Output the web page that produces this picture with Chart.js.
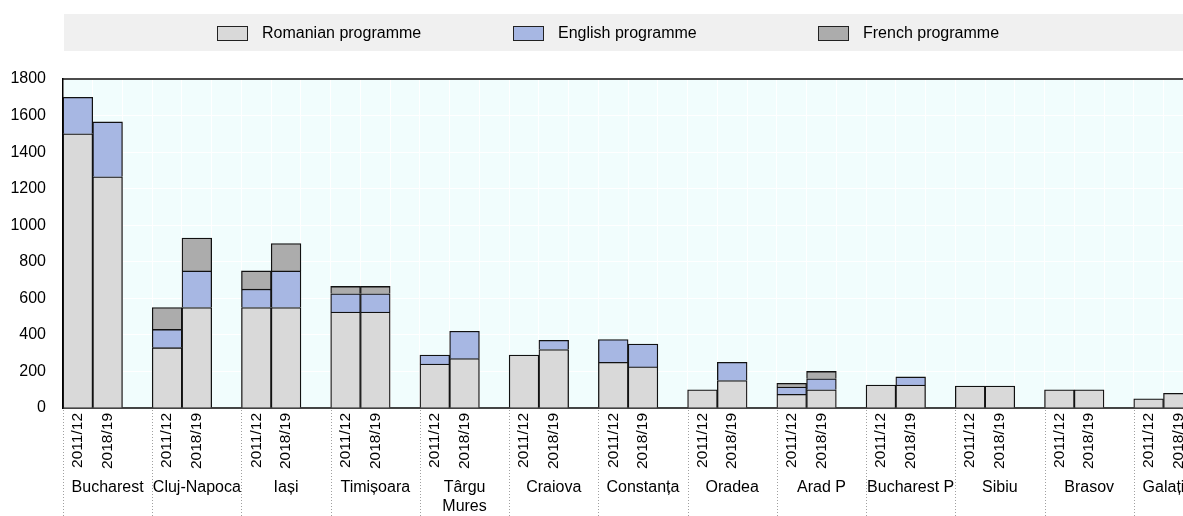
<!DOCTYPE html>
<html>
<head>
<meta charset="utf-8">
<script src="https://cdn.jsdelivr.net/npm/chart.js@4/dist/chart.umd.min.js"></script>
<style>
  html, body { margin: 0; padding: 0; overflow: hidden; background: #fff; }
  #wrap { width: 1202px; height: 516px; }
</style>
</head>
<body>
<div id="wrap"><canvas id="progChart" width="1202" height="516"></canvas></div>
<script>
const cities = ['Bucharest', 'Cluj-Napoca', 'Iași', 'Timișoara', ['Târgu', 'Mures'], 'Craiova',
    'Constanța', 'Oradea', 'Arad P', 'Bucharest P', 'Sibiu', 'Brasov', 'Galați'];
const years = ['2011/12', '2018/19'];

// two values per city: 2011/12, 2018/19
const romanian = [1500, 1265, 330, 550, 550, 550, 525, 525, 240, 270, 290, 320, 250, 225,
    100, 150, 75, 100, 125, 125, 120, 120, 100, 100, 50, 80];
const english = [200, 300, 100, 200, 100, 200, 100, 100, 50, 150, 0, 50, 125, 125,
    0, 100, 40, 60, 0, 45, 0, 0, 0, 0, 0, 0];
const french = [0, 0, 120, 180, 100, 150, 40, 40, 0, 0, 0, 0, 0, 0,
    0, 0, 20, 40, 0, 0, 0, 0, 0, 0, 0, 0];

const yTicks = [0, 200, 400, 600, 800, 1000, 1200, 1400, 1600, 1800];

const FONT = '"Liberation Sans", Arial, sans-serif';

// each city gets two year slots, then an empty gap (none after the last one)
const labels = [];
cities.forEach((c, i) => {
    labels.push(years[0], years[1]);
    if (i < cities.length - 1) labels.push('');
});

function spread(vals) {
    const out = [];
    for (let i = 0; i < cities.length; i++) {
        out.push(vals[i * 2] || null, vals[i * 2 + 1] || null);
        if (i < cities.length - 1) out.push(null);
    }
    return out;
}

const data = {
    labels: labels,
    datasets: [{
        label: 'Romanian programme',
        data: spread(romanian),
        backgroundColor: '#d9d9d9',
    }, {
        label: 'English programme',
        data: spread(english),
        backgroundColor: '#a7b7e3',
    }, {
        label: 'French programme',
        data: spread(french),
        backgroundColor: '#acacac',
    }]
};

// plot background, top frame line, legend band, city labels and separators
const decorations = {
    id: 'decorations',
    beforeDraw(chart) {
        const { ctx, chartArea: a } = chart;
        ctx.save();
        ctx.fillStyle = '#f1fdfd';
        ctx.fillRect(a.left, a.top, a.right - a.left, a.bottom - a.top);
        ctx.restore();
    },
    afterDraw(chart) {
        const { ctx, chartArea: a } = chart;
        const x = chart.scales.x;
        const slot = (a.right - a.left) / labels.length;
        ctx.save();

        // top frame
        ctx.strokeStyle = '#111';
        ctx.lineWidth = 1.5;
        ctx.beginPath();
        ctx.moveTo(a.left, a.top);
        ctx.lineTo(a.right, a.top);
        ctx.stroke();

        // legend band
        ctx.fillStyle = '#f0f0f0';
        ctx.fillRect(64, 14, chart.width - 64, 37);
        const legendX = [217, 513, 818];
        ctx.font = '16px ' + FONT;
        ctx.textBaseline = 'middle';
        ctx.textAlign = 'left';
        chart.data.datasets.forEach((ds, i) => {
            ctx.fillStyle = ds.backgroundColor;
            ctx.fillRect(legendX[i], 26, 30, 14);
            ctx.strokeStyle = '#222';
            ctx.lineWidth = 1;
            ctx.strokeRect(legendX[i] + 0.5, 26.5, 30, 14);
            ctx.fillStyle = '#000';
            ctx.fillText(ds.label, legendX[i] + 45, 34);
        });

        // city separators and names
        ctx.strokeStyle = '#a0a0a0';
        ctx.lineWidth = 1;
        ctx.setLineDash([1, 2]);
        const lefts = cities.map((c, i) => x.getPixelForValue(i * 3) - slot / 2);
        lefts.forEach(l => {
            const px = Math.round(l) + 0.5;
            ctx.beginPath();
            ctx.moveTo(px, a.bottom + 2);
            ctx.lineTo(px, chart.height);
            ctx.stroke();
        });
        ctx.setLineDash([]);
        ctx.fillStyle = '#000';
        ctx.textAlign = 'center';
        cities.forEach((c, i) => {
            const right = i < cities.length - 1 ? lefts[i + 1] : a.right;
            const cx = (lefts[i] + right) / 2;
            const lines = Array.isArray(c) ? c : [c];
            lines.forEach((ln, j) => ctx.fillText(ln, cx, 488 + j * 19));
        });
        ctx.restore();
    }
};

const config = {
    type: 'bar',
    data: data,
    options: {
        responsive: false,
        animation: false,
        layout: { padding: { top: 79, right: 3, left: 0, bottom: 0 } },
        datasets: {
            bar: {
                barPercentage: 1,
                categoryPercentage: 1,
                borderWidth: 1.3,
                borderColor: '#111',
            }
        },
        plugins: {
            legend: { display: false },
            tooltip: { enabled: false },
        },
        scales: {
            x: {
                stacked: true,
                afterFit(scale) { scale.height = 108; },
                grid: { color: '#ffffff', lineWidth: 1, drawTicks: false },
                border: { color: '#444', width: 2 },
                ticks: {
                    autoSkip: false,
                    minRotation: 90,
                    maxRotation: 90,
                    padding: 5,
                    color: '#000',
                    font: { family: FONT, size: 15.5 },
                },
            },
            y: {
                stacked: true,
                min: 0,
                max: 1800,
                afterFit(scale) { scale.width = 63; },
                afterBuildTicks(scale) { scale.ticks = yTicks.map(v => ({ value: v })); },
                grid: { color: '#ffffff', lineWidth: 1, drawTicks: false },
                border: { color: '#000', width: 1.5 },
                ticks: {
                    padding: 17,
                    color: '#000',
                    font: { family: FONT, size: 16 },
                    callback: v => String(v),
                },
            },
        },
    },
    plugins: [decorations],
};

const progChart = new Chart(document.getElementById('progChart'), config);
</script>
</body>
</html>
